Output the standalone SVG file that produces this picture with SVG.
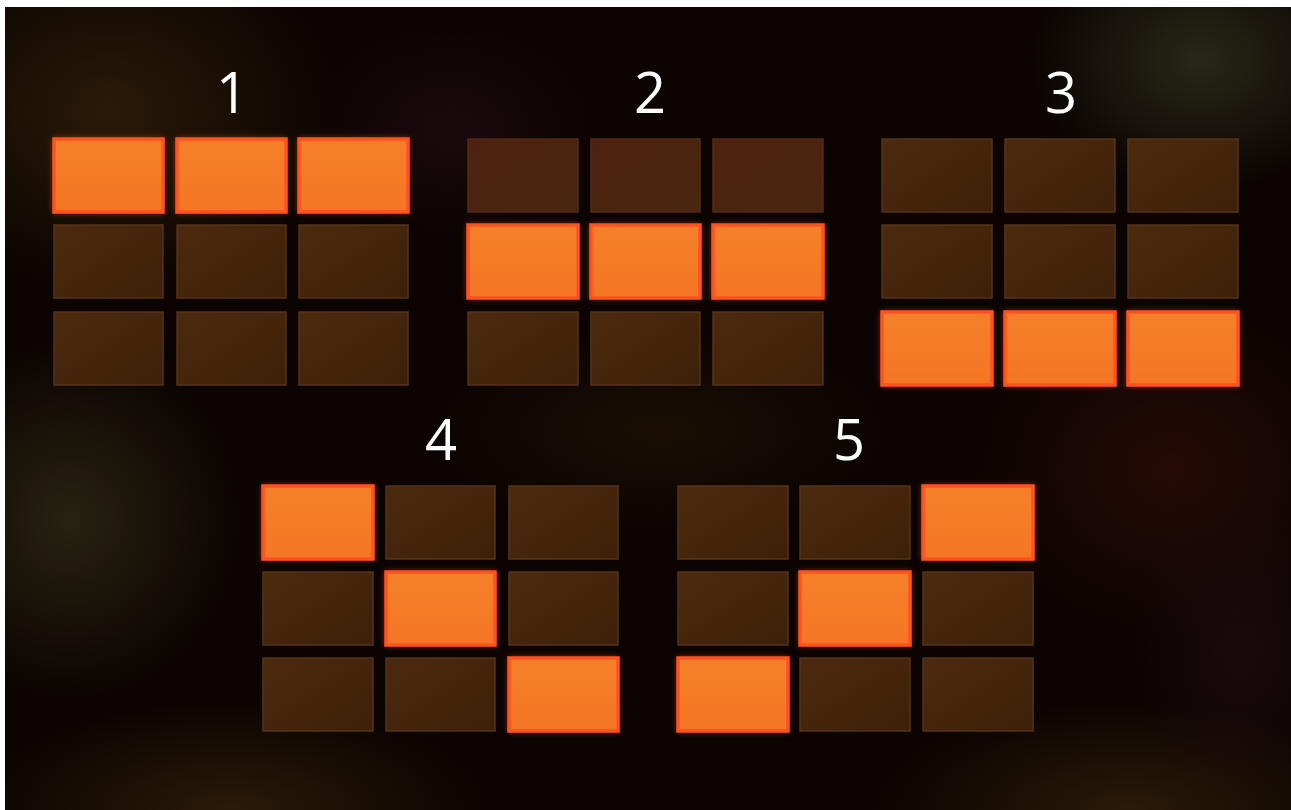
<svg xmlns="http://www.w3.org/2000/svg" width="1291" height="810" viewBox="0 0 1291 810">
<defs>
<filter id="glow" x="-20%" y="-30%" width="140%" height="160%"><feGaussianBlur stdDeviation="3"/></filter>
<linearGradient id="litg" x1="0" y1="0" x2="0" y2="1">
<stop offset="0" stop-color="#f5802a"/>
<stop offset="1" stop-color="#f47624"/>
</linearGradient>
<linearGradient id="dimg" x1="0" y1="0" x2="1" y2="1">
<stop offset="0" stop-color="#4c2a0e"/>
<stop offset="1" stop-color="#3d2009"/>
</linearGradient>
<linearGradient id="dimr" x1="0" y1="0" x2="1" y2="1">
<stop offset="0" stop-color="#4d2110"/>
<stop offset="1" stop-color="#48260f"/>
</linearGradient>
<radialGradient id="bBrown"><stop offset="0" stop-color="#2e1d08" stop-opacity="0.9"/><stop offset="1" stop-color="#2e1d08" stop-opacity="0"/></radialGradient>
<radialGradient id="bOlive"><stop offset="0" stop-color="#2a2612" stop-opacity="0.9"/><stop offset="1" stop-color="#2a2612" stop-opacity="0"/></radialGradient>
<radialGradient id="bGrey"><stop offset="0" stop-color="#2c2b1a" stop-opacity="0.9"/><stop offset="1" stop-color="#2c2b1a" stop-opacity="0"/></radialGradient>
<radialGradient id="bRed"><stop offset="0" stop-color="#2a0b06" stop-opacity="0.9"/><stop offset="1" stop-color="#2a0b06" stop-opacity="0"/></radialGradient>
<radialGradient id="bPurple"><stop offset="0" stop-color="#1f0b10" stop-opacity="0.8"/><stop offset="1" stop-color="#1f0b10" stop-opacity="0"/></radialGradient>
<clipPath id="bgclip"><rect x="5" y="7" width="1286" height="803"/></clipPath>
</defs>
<style>
.lit{fill:url(#litg);stroke:#ff5220;stroke-width:3.5}
.halo{fill:#ff5a1e;opacity:0.5;filter:url(#glow)}
.dim{fill:url(#dimg);stroke:#56331a;stroke-width:1.5}
.dimr{fill:url(#dimr);stroke:#552a18;stroke-width:1.5}
.lbl{font-family:"Open Sans","Liberation Sans",sans-serif;font-size:56px;fill:#ffffff;text-anchor:middle}
</style>
<rect x="0" y="0" width="1291" height="810" fill="#ffffff"/>
<rect x="5" y="7" width="1286" height="803" fill="#0b0402"/>
<g id="background" clip-path="url(#bgclip)">
<ellipse cx="110" cy="110" rx="230" ry="180" fill="url(#bBrown)"/>
<ellipse cx="1200" cy="60" rx="170" ry="130" fill="url(#bGrey)"/>
<ellipse cx="70" cy="520" rx="170" ry="180" fill="url(#bOlive)"/>
<ellipse cx="230" cy="810" rx="260" ry="110" fill="url(#bBrown)"/>
<ellipse cx="1130" cy="810" rx="260" ry="110" fill="url(#bBrown)"/>
<ellipse cx="1170" cy="470" rx="200" ry="170" fill="url(#bRed)"/>
<ellipse cx="450" cy="130" rx="150" ry="110" fill="url(#bPurple)"/>
<ellipse cx="1240" cy="650" rx="110" ry="150" fill="url(#bPurple)"/>
<ellipse cx="660" cy="430" rx="230" ry="100" fill="url(#bBrown)" opacity="0.5"/>
</g>
<g id="grid1">
<text class="lbl" x="232" y="113">1</text>
<rect class="halo" x="53" y="138" width="111" height="75"/>
<rect class="halo" x="176" y="138" width="111" height="75"/>
<rect class="halo" x="298" y="138" width="111" height="75"/>
<rect class="lit" x="54" y="139" width="109" height="73"/>
<rect class="lit" x="177" y="139" width="109" height="73"/>
<rect class="lit" x="299" y="139" width="109" height="73"/>
<rect class="dim" x="54" y="225" width="109" height="73"/>
<rect class="dim" x="177" y="225" width="109" height="73"/>
<rect class="dim" x="299" y="225" width="109" height="73"/>
<rect class="dim" x="54" y="312" width="109" height="73"/>
<rect class="dim" x="177" y="312" width="109" height="73"/>
<rect class="dim" x="299" y="312" width="109" height="73"/>
</g>
<g id="grid2">
<text class="lbl" x="650" y="113">2</text>
<rect class="dimr" x="468" y="139" width="110" height="73"/>
<rect class="dimr" x="591" y="139" width="109" height="73"/>
<rect class="dimr" x="713" y="139" width="110" height="73"/>
<rect class="halo" x="467" y="224" width="112" height="75"/>
<rect class="halo" x="590" y="224" width="111" height="75"/>
<rect class="halo" x="712" y="224" width="112" height="75"/>
<rect class="lit" x="468" y="225" width="110" height="73"/>
<rect class="lit" x="591" y="225" width="109" height="73"/>
<rect class="lit" x="713" y="225" width="110" height="73"/>
<rect class="dim" x="468" y="312" width="110" height="73"/>
<rect class="dim" x="591" y="312" width="109" height="73"/>
<rect class="dim" x="713" y="312" width="110" height="73"/>
</g>
<g id="grid3">
<text class="lbl" x="1061" y="113">3</text>
<rect class="dim" x="882" y="139" width="110" height="73"/>
<rect class="dim" x="1005" y="139" width="110" height="73"/>
<rect class="dim" x="1128" y="139" width="110" height="73"/>
<rect class="dim" x="882" y="225" width="110" height="73"/>
<rect class="dim" x="1005" y="225" width="110" height="73"/>
<rect class="dim" x="1128" y="225" width="110" height="73"/>
<rect class="halo" x="881" y="311" width="112" height="75"/>
<rect class="halo" x="1004" y="311" width="112" height="75"/>
<rect class="halo" x="1127" y="311" width="112" height="75"/>
<rect class="lit" x="882" y="312" width="110" height="73"/>
<rect class="lit" x="1005" y="312" width="110" height="73"/>
<rect class="lit" x="1128" y="312" width="110" height="73"/>
</g>
<g id="grid4">
<text class="lbl" x="441" y="460">4</text>
<rect class="halo" x="262" y="485" width="112" height="75"/>
<rect class="lit" x="263" y="486" width="110" height="73"/>
<rect class="dim" x="386" y="486" width="109" height="73"/>
<rect class="dim" x="509" y="486" width="109" height="73"/>
<rect class="dim" x="263" y="572" width="110" height="73"/>
<rect class="halo" x="385" y="571" width="111" height="75"/>
<rect class="lit" x="386" y="572" width="109" height="73"/>
<rect class="dim" x="509" y="572" width="109" height="73"/>
<rect class="dim" x="263" y="658" width="110" height="73"/>
<rect class="dim" x="386" y="658" width="109" height="73"/>
<rect class="halo" x="508" y="657" width="111" height="75"/>
<rect class="lit" x="509" y="658" width="109" height="73"/>
</g>
<g id="grid5">
<text class="lbl" x="849" y="460">5</text>
<rect class="dim" x="678" y="486" width="110" height="73"/>
<rect class="dim" x="800" y="486" width="110" height="73"/>
<rect class="halo" x="922" y="485" width="112" height="75"/>
<rect class="lit" x="923" y="486" width="110" height="73"/>
<rect class="dim" x="678" y="572" width="110" height="73"/>
<rect class="halo" x="799" y="571" width="112" height="75"/>
<rect class="lit" x="800" y="572" width="110" height="73"/>
<rect class="dim" x="923" y="572" width="110" height="73"/>
<rect class="halo" x="677" y="657" width="112" height="75"/>
<rect class="lit" x="678" y="658" width="110" height="73"/>
<rect class="dim" x="800" y="658" width="110" height="73"/>
<rect class="dim" x="923" y="658" width="110" height="73"/>
</g>
</svg>
